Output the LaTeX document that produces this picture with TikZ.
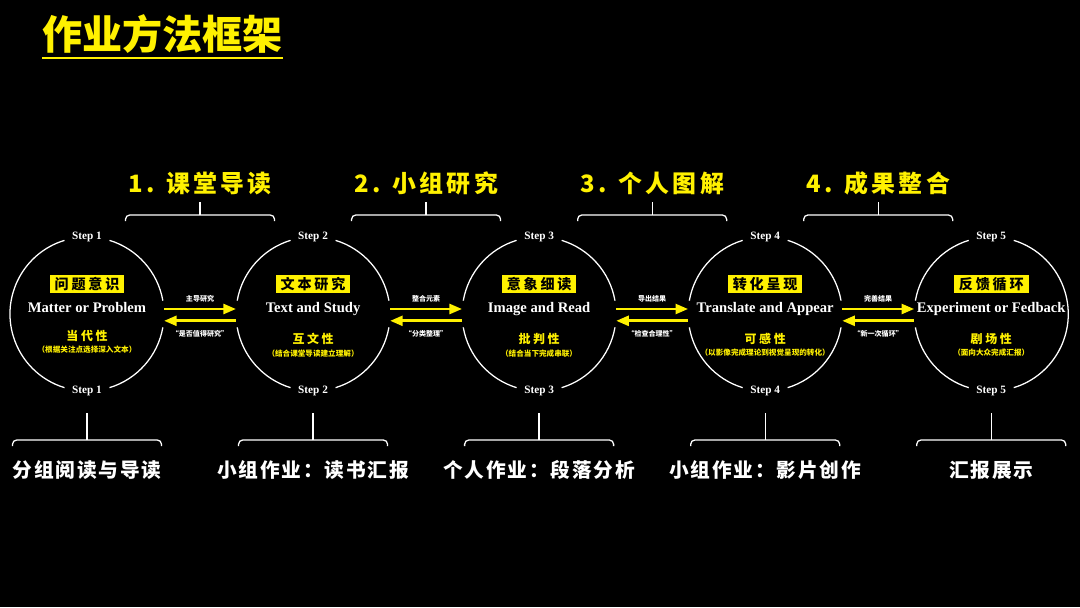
\documentclass[tikz,border=0pt]{standalone}
\usepackage{fontspec}
\setmainfont{Noto Sans CJK SC}
\newfontfamily\engfont{Liberation Serif}
\newfontfamily\grpfont[LetterSpace=14]{Noto Sans CJK SC}
\newfontfamily\taskfont[LetterSpace=9]{Noto Sans CJK SC}
\newfontfamily\tagfont[LetterSpace=20]{Noto Sans CJK SC}
\newfontfamily\propfont[LetterSpace=22]{Noto Sans CJK SC}
\usetikzlibrary{arrows.meta,positioning,calc}
\definecolor{hlyellow}{RGB}{255,241,0}

\begin{document}
\begin{tikzpicture}[
  x=0.025cm, y=-0.025cm,
  node distance=0.3cm and 1.8cm,
  ring/.style={circle, minimum size=3.85cm, inner sep=0pt, outer sep=0pt},
  rim/.style={white, line width=0.9pt},
  tag/.style={fill=hlyellow, text=black, font=\tagfont\fontsize{10}{11}\selectfont\bfseries, inner xsep=3.5pt, inner ysep=1.6pt},
  eng/.style={white, inner sep=0pt, font=\engfont\fontsize{10.4}{12}\selectfont\bfseries},
  prop/.style={hlyellow, inner sep=0pt, font=\propfont\fontsize{8.5}{9}\selectfont\bfseries},
  note/.style={hlyellow, inner sep=0pt, font=\fontsize{5.4}{6}\selectfont\bfseries},
  steplbl/.style={white, font=\engfont\fontsize{8}{9}\selectfont\bfseries},
  fwd/.style={-{Triangle[length=9pt,width=7pt]}, hlyellow, line width=2pt},
  back/.style={{Triangle[length=9pt,width=7pt]}-, hlyellow, line width=2pt},
  arrlbl/.style={white, inner sep=0pt, font=\fontsize{5}{6}\selectfont\bfseries},
  grp/.style={hlyellow, inner sep=0pt, font=\grpfont\fontsize{17}{19}\selectfont\bfseries},
  task/.style={white, inner sep=0pt, font=\taskfont\fontsize{14}{16}\selectfont\bfseries},
  brace/.style={white, line width=0.9pt, rounded corners=3pt}
]
\fill[black] (0,0) rectangle (1080,607);
\useasboundingbox (0,0) rectangle (1080,607);

% Title
\node[hlyellow, inner sep=0pt, anchor=south west, font=\fontsize{28.5}{31}\selectfont\bfseries] (title) at (42,54) {作业方法框架};
\draw[hlyellow, line width=1.4pt] ([yshift=-2.5pt]title.south west) -- ([yshift=-2.5pt]title.south east);

% Circles
\node[ring] (c1) at (87,314) {};
\node[ring, right=of c1] (c2) {};
\node[ring, right=of c2] (c3) {};
\node[ring, right=of c3] (c4) {};
\node[ring, right=of c4] (c5) {};

\draw[rim] (c1.107) arc[start angle=107, end angle=253, radius=1.925cm];
\draw[rim] (c1.287) arc[start angle=287, end angle=350, radius=1.925cm];
\draw[rim] (c1.10) arc[start angle=10, end angle=73, radius=1.925cm];
\draw[rim] (c2.107) arc[start angle=107, end angle=170, radius=1.925cm];
\draw[rim] (c2.190) arc[start angle=190, end angle=253, radius=1.925cm];
\draw[rim] (c2.287) arc[start angle=287, end angle=350, radius=1.925cm];
\draw[rim] (c2.10) arc[start angle=10, end angle=73, radius=1.925cm];
\draw[rim] (c3.107) arc[start angle=107, end angle=170, radius=1.925cm];
\draw[rim] (c3.190) arc[start angle=190, end angle=253, radius=1.925cm];
\draw[rim] (c3.287) arc[start angle=287, end angle=350, radius=1.925cm];
\draw[rim] (c3.10) arc[start angle=10, end angle=73, radius=1.925cm];
\draw[rim] (c4.107) arc[start angle=107, end angle=170, radius=1.925cm];
\draw[rim] (c4.190) arc[start angle=190, end angle=253, radius=1.925cm];
\draw[rim] (c4.287) arc[start angle=287, end angle=350, radius=1.925cm];
\draw[rim] (c4.10) arc[start angle=10, end angle=73, radius=1.925cm];
\draw[rim] (c5.107) arc[start angle=107, end angle=170, radius=1.925cm];
\draw[rim] (c5.190) arc[start angle=190, end angle=253, radius=1.925cm];
\draw[rim] (c5.287) arc[start angle=287, end angle=433, radius=1.925cm];

% Step labels
\node[steplbl] at (c1.north) {Step 1};
\node[steplbl] at (c1.south) {Step 1};
\node[steplbl] at (c2.north) {Step 2};
\node[steplbl] at (c2.south) {Step 2};
\node[steplbl] at (c3.north) {Step 3};
\node[steplbl] at (c3.south) {Step 3};
\node[steplbl] at (c4.north) {Step 4};
\node[steplbl] at (c4.south) {Step 4};
\node[steplbl] at (c5.north) {Step 5};
\node[steplbl] at (c5.south) {Step 5};

% Circle contents
\node[eng, anchor=base] (e1) at ([yshift=0.05cm]c1.center) {Matter or Problem};
\node[tag, above=0.2cm of e1] (t1) {问题意识};
\node[prop, below=0.44cm of e1] (p1) {当代性};
\node[note, below=0.1cm of p1] (n1) {（根据关注点选择深入文本）};

\node[eng, anchor=base] (e2) at ([yshift=0.05cm]c2.center) {Text and Study};
\node[tag, above=0.2cm of e2] (t2) {文本研究};
\node[prop, below=0.44cm of e2] (p2) {互文性};
\node[note, below=0.1cm of p2] (n2) {（结合课堂导读建立理解）};

\node[eng, anchor=base] (e3) at ([yshift=0.05cm]c3.center) {Image and Read};
\node[tag, above=0.2cm of e3] (t3) {意象细读};
\node[prop, below=0.44cm of e3] (p3) {批判性};
\node[note, below=0.1cm of p3] (n3) {（结合当下完成串联）};

\node[eng, anchor=base] (e4) at ([yshift=0.05cm]c4.center) {Translate and Appear};
\node[tag, above=0.2cm of e4] (t4) {转化呈现};
\node[prop, below=0.44cm of e4] (p4) {可感性};
\node[note, below=0.1cm of p4] (n4) {（以影像完成理论到视觉呈现的转化）};

\node[eng, anchor=base] (e5) at ([yshift=0.05cm]c5.center) {Experiment or Fedback};
\node[tag, above=0.2cm of e5] (t5) {反馈循环};
\node[prop, below=0.44cm of e5] (p5) {剧场性};
\node[note, below=0.1cm of p5] (n5) {（面向大众完成汇报）};

% Arrows between steps
\draw[fwd] ([yshift=0.125cm]c1.east) -- node[arrlbl, above=4pt] {主导研究} ([yshift=0.125cm]c2.west);
\draw[back] ([yshift=-0.17cm]c1.east) -- node[arrlbl, below=6pt] {“是否值得研究”} ([yshift=-0.17cm]c2.west);
\draw[fwd] ([yshift=0.125cm]c2.east) -- node[arrlbl, above=4pt] {整合元素} ([yshift=0.125cm]c3.west);
\draw[back] ([yshift=-0.17cm]c2.east) -- node[arrlbl, below=6pt] {“分类整理”} ([yshift=-0.17cm]c3.west);
\draw[fwd] ([yshift=0.125cm]c3.east) -- node[arrlbl, above=4pt] {导出结果} ([yshift=0.125cm]c4.west);
\draw[back] ([yshift=-0.17cm]c3.east) -- node[arrlbl, below=6pt] {“检查合理性”} ([yshift=-0.17cm]c4.west);
\draw[fwd] ([yshift=0.125cm]c4.east) -- node[arrlbl, above=4pt] {完善结果} ([yshift=0.125cm]c5.west);
\draw[back] ([yshift=-0.17cm]c4.east) -- node[arrlbl, below=6pt] {“新一次循环”} ([yshift=-0.17cm]c5.west);

% Group headings with brackets
\coordinate (b1) at ($(c1)!0.5!(c2)+(0,-99)$);
\coordinate (b2) at ($(c2)!0.5!(c3)+(0,-99)$);
\coordinate (b3) at ($(c3)!0.5!(c4)+(0,-99)$);
\coordinate (b4) at ($(c4)!0.5!(c5)+(0,-99)$);
\node[grp, above=0.5cm of b1] (g1) {1. 课堂导读};
\node[grp, above=0.5cm of b2] (g2) {2. 小组研究};
\node[grp, above=0.5cm of b3] (g3) {3. 个人图解};
\node[grp, above=0.5cm of b4] (g4) {4. 成果整合};
\draw[brace] (b1) -- ++(0,-13);
\draw[brace] (b1) ++(-74.5,6) |- ++(149,-6) -- ++(0,6);
\draw[brace] (b2) -- ++(0,-13);
\draw[brace] (b2) ++(-74.5,6) |- ++(149,-6) -- ++(0,6);
\draw[brace] (b3) -- ++(0,-13);
\draw[brace] (b3) ++(-74.5,6) |- ++(149,-6) -- ++(0,6);
\draw[brace] (b4) -- ++(0,-13);
\draw[brace] (b4) ++(-74.5,6) |- ++(149,-6) -- ++(0,6);

% Tasks below
\coordinate (d1) at ($(c1)+(0,126)$);
\coordinate (d2) at ($(c2)+(0,126)$);
\coordinate (d3) at ($(c3)+(0,126)$);
\coordinate (d4) at ($(c4)+(0,126)$);
\coordinate (d5) at ($(c5)+(0,126)$);
\draw[brace] (d1) -- ++(0,-27);
\draw[brace] (d1) ++(-74.5,6) |- ++(149,-6) -- ++(0,6);
\draw[brace] (d2) -- ++(0,-27);
\draw[brace] (d2) ++(-74.5,6) |- ++(149,-6) -- ++(0,6);
\draw[brace] (d3) -- ++(0,-27);
\draw[brace] (d3) ++(-74.5,6) |- ++(149,-6) -- ++(0,6);
\draw[brace] (d4) -- ++(0,-27);
\draw[brace] (d4) ++(-74.5,6) |- ++(149,-6) -- ++(0,6);
\draw[brace] (d5) -- ++(0,-27);
\draw[brace] (d5) ++(-74.5,6) |- ++(149,-6) -- ++(0,6);
\node[task, below=0.5cm of d1] (s1) {分组阅读与导读};
\node[task, below=0.5cm of d2] (s2) {小组作业：读书汇报};
\node[task, below=0.5cm of d3] (s3) {个人作业：段落分析};
\node[task, below=0.5cm of d4] (s4) {小组作业：影片创作};
\node[task, below=0.5cm of d5] (s5) {汇报展示};
\end{tikzpicture}
\end{document}
